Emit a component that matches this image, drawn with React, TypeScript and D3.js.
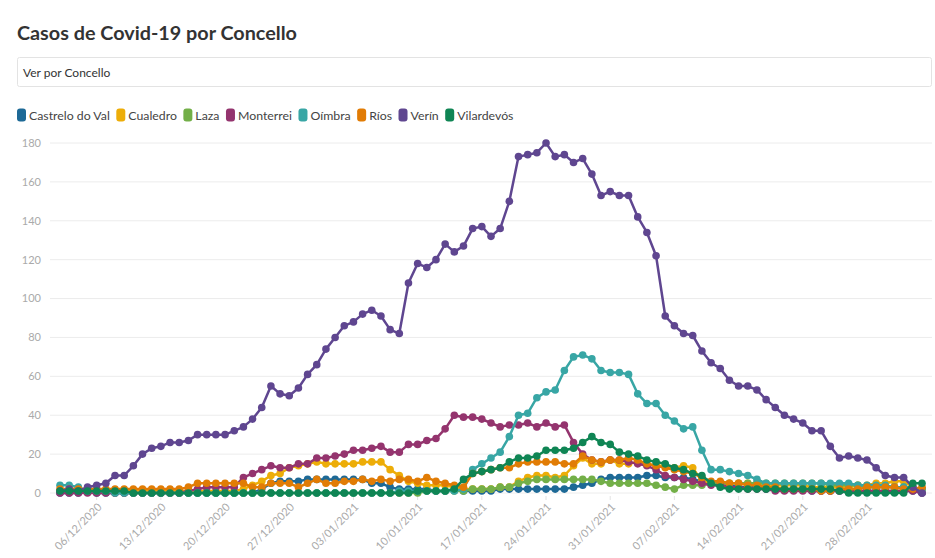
import React, { useRef, useEffect } from 'react';
import * as d3 from 'd3';

// Daily cases per municipality, from 02/12/2020 to 06/03/2021
const startDate = new Date(2020, 11, 2);
const endDate = new Date(2021, 2, 6);

const concellos = ['Castrelo do Val', 'Cualedro', 'Laza', 'Monterrei', 'Oímbra', 'Ríos', 'Verín', 'Vilardevós'];
const colors = ['#1d6996', '#edad08', '#73af48', '#94346e', '#38a6a5', '#e17c05', '#5f4690', '#0f8554'];

const castreloDoVal = [
  0, 0, 0, 1, 0, 0, 0, 0, 0, 0, 0, 0, 0, 0, 0, 0, 0, 0, 0, 0,
  0, 0, 2, 5, 6, 6, 6, 7, 7, 7, 7, 7, 7, 7, 5, 5, 3, 2, 2, 2,
  2, 1, 1, 2, 1, 1, 1, 1, 2, 2, 2, 2, 2, 2, 2, 2, 3, 4, 5, 7,
  8, 8, 8, 8, 9, 9, 8, 8, 8, 7, 6, 5, 4, 4, 3, 3, 3, 2, 2, 2,
  2, 2, 1, 1, 1, 1, 1, 1, 1, 1, 1, 1, 1, 1, 0,
];
const cualedro = [
  1, 1, 1, 1, 1, 1, 1, 1, 1, 1, 1, 1, 1, 1, 1, 1, 1, 1, 1, 1,
  2, 4, 6, 9, 10, 13, 14, 15, 16, 15, 15, 15, 15, 16, 16, 16, 12, 9, 6, 5,
  4, 4, 4, 3, 2, 2, 2, 2, 3, 3, 6, 8, 9, 9, 8, 9, 14, 18, 15, 15,
  17, 15, 15, 16, 15, 14, 14, 13, 14, 13, 6, 5, 5, 5, 5, 5, 5, 4, 4, 4,
  4, 4, 3, 3, 3, 3, 3, 4, 4, 5, 5, 6, 6, 3, 2,
];
const laza = [
  1, 1, 1, 1, 1, 1, 0, 0, 0, 0, 0, 0, 0, 0, 0, 0, 0, 0, 0, 0,
  0, 0, 0, 0, 0, 0, 0, 0, 0, 0, 0, 0, 0, 0, 0, 0, 0, 0, 0, 0,
  1, 1, 1, 1, 1, 2, 2, 2, 3, 3, 5, 6, 7, 7, 7, 7, 7, 7, 7, 6,
  5, 5, 5, 5, 5, 4, 3, 2, 4, 4, 4, 5, 5, 5, 5, 5, 5, 5, 5, 5,
  5, 5, 5, 5, 4, 4, 4, 4, 3, 3, 3, 3, 3, 2, 2,
];
const monterrei = [
  0, 0, 0, 0, 0, 0, 0, 0, 0, 0, 0, 0, 0, 0, 1, 2, 3, 3, 3, 3,
  8, 10, 12, 14, 13, 13, 15, 15, 18, 18, 19, 20, 22, 22, 23, 24, 21, 21, 25, 25,
  27, 28, 33, 40, 39, 39, 38, 36, 34, 35, 35, 36, 34, 36, 34, 35, 26, 20, 17, 16,
  17, 17, 16, 15, 14, 12, 9, 8, 7, 6, 5, 4, 4, 3, 3, 2, 2, 2, 1, 1,
  1, 1, 1, 1, 1, 1, 1, 1, 1, 1, 1, 1, 1, 1, 0,
];
const oimbra = [
  4, 4, 3, 1, 1, 1, 0, 0, 0, 0, 0, 0, 0, 0, 0, 0, 0, 0, 0, 0,
  0, 0, 0, 0, 0, 0, 0, 0, 0, 0, 0, 0, 0, 0, 0, 0, 0, 1, 1, 1,
  1, 1, 1, 1, 2, 12, 15, 18, 21, 29, 40, 41, 49, 52, 53, 63, 70, 71, 69, 63,
  62, 62, 61, 51, 46, 46, 40, 37, 33, 34, 22, 12, 12, 11, 10, 9, 7, 5, 5, 5,
  5, 5, 5, 5, 5, 5, 5, 4, 4, 4, 4, 3, 3, 3, 2,
];
const rios = [
  2, 2, 2, 2, 2, 2, 2, 2, 2, 2, 2, 2, 2, 2, 3, 5, 5, 5, 5, 5,
  5, 3, 3, 5, 5, 5, 3, 5, 7, 5, 5, 6, 6, 7, 6, 7, 6, 7, 7, 6,
  8, 6, 5, 4, 3, 10, 11, 12, 13, 13, 15, 16, 16, 16, 16, 15, 15, 19, 17, 16,
  17, 17, 18, 17, 15, 14, 13, 12, 11, 10, 8, 6, 6, 5, 5, 4, 4, 3, 3, 2,
  2, 2, 2, 1, 1, 2, 2, 2, 3, 3, 3, 3, 2, 2, 3,
];
const verin = [
  1, 2, 1, 3, 4, 5, 9, 9, 14, 20, 23, 24, 26, 26, 27, 30, 30, 30, 30, 32,
  34, 38, 44, 55, 51, 50, 54, 61, 66, 74, 80, 86, 88, 92, 94, 91, 84, 82, 108, 118,
  116, 120, 128, 124, 127, 136, 137, 132, 136, 150, 173, 174, 175, 180, 173, 174, 170, 172, 164, 153,
  155, 153, 153, 142, 134, 122, 91, 86, 82, 81, 73, 67, 64, 58, 55, 55, 53, 48, 44, 40,
  38, 36, 32, 32, 24, 18, 19, 18, 17, 13, 9, 8, 8, 3, 0,
];
const vilardevos = [
  1, 1, 1, 1, 1, 1, 1, 1, 0, 0, 0, 0, 0, 0, 0, 0, 0, 0, 0, 0,
  0, 0, 0, 0, 0, 0, 0, 0, 0, 0, 0, 0, 0, 0, 0, 0, 0, 0, 0, 1,
  1, 1, 1, 2, 7, 10, 11, 12, 13, 16, 18, 18, 19, 22, 22, 22, 23, 26, 29, 26,
  25, 21, 20, 19, 17, 16, 15, 13, 12, 10, 9, 5, 3, 2, 2, 2, 2, 2, 2, 2,
  2, 2, 2, 2, 2, 1, 0, 0, 0, 0, 0, 0, 0, 5, 5,
];

const seriesValues = [castreloDoVal, cualedro, laza, monterrei, oimbra, rios, verin, vilardevos];
const yTicks = [0, 20, 40, 60, 80, 100, 120, 140, 160, 180];

const FONT = "'Source Sans Pro', Lato, 'Open Sans', sans-serif";

const App = () => {
  const svgRef = useRef(null);

  useEffect(() => {
    document.body.style.margin = '0';
    const svg = d3.select(svgRef.current);
    svg.selectAll('*').remove();

    const dates = d3.timeDay.range(startDate, d3.timeDay.offset(endDate, 1));
    const series = concellos.map((name, k) => ({
      name,
      color: colors[k],
      values: dates.map((date, i) => ({ date, value: seriesValues[k][i] })),
    }));

    const x = d3.scaleTime().domain([startDate, endDate]).range([60, 922]);
    const y = d3.scaleLinear().domain([0, 180]).range([493, 143]);

    // Header
    svg.append('text')
      .attr('x', 17).attr('y', 40)
      .attr('font-family', FONT).attr('font-weight', 700).attr('font-size', 19.8)
      .attr('fill', '#333')
      .text('Casos de Covid-19 por Concello');

    svg.append('rect')
      .attr('x', 17.5).attr('y', 57.5).attr('width', 914).attr('height', 29)
      .attr('fill', '#fff').attr('stroke', '#e3e3e3').attr('rx', 2);
    svg.append('text')
      .attr('x', 23).attr('y', 77)
      .attr('font-family', FONT).attr('font-size', 12)
      .attr('fill', '#333')
      .text('Ver por Concello');

    // Legend
    const legend = svg.append('g').attr('transform', 'translate(17,115)');
    let lx = 0;
    series.forEach(s => {
      const g = legend.append('g').attr('transform', `translate(${lx},0)`);
      g.append('rect')
        .attr('x', 0).attr('y', -6.5).attr('width', 9).attr('height', 13).attr('rx', 3)
        .attr('fill', s.color);
      const t = g.append('text')
        .attr('x', 12).attr('y', 4.5)
        .attr('font-family', FONT).attr('font-size', 12.3)
        .attr('fill', '#444')
        .text(s.name);
      lx += 12 + t.node().getComputedTextLength() + 6.5;
    });

    // Grid and y axis
    const grid = svg.append('g');
    yTicks.forEach(v => {
      grid.append('line')
        .attr('x1', 50).attr('x2', 932)
        .attr('y1', y(v)).attr('y2', y(v))
        .attr('stroke', '#ececec').attr('stroke-width', 1);
      grid.append('text')
        .attr('x', 41).attr('y', y(v)).attr('dy', '0.35em')
        .attr('text-anchor', 'end')
        .attr('font-family', FONT).attr('font-size', 11)
        .attr('fill', '#aaa')
        .text(v);
    });

    // X axis
    const xTicks = d3.timeDay.range(new Date(2020, 11, 6), d3.timeDay.offset(endDate, 1), 7);
    const fmt = d3.timeFormat('%d/%m/%Y');
    const xAxis = svg.append('g');
    xTicks.forEach(d => {
      xAxis.append('line')
        .attr('x1', x(d)).attr('x2', x(d)).attr('y1', 496).attr('y2', 500)
        .attr('stroke', '#e3e3e3');
      xAxis.append('text')
        .attr('transform', `translate(${x(d) + 3},505) rotate(-45)`)
        .attr('text-anchor', 'end')
        .attr('dy', '0.35em')
        .attr('font-family', FONT).attr('font-size', 11)
        .attr('fill', '#aaa')
        .text(fmt(d));
    });

    // Lines and dots
    const line = d3.line()
      .x(d => x(d.date))
      .y(d => y(d.value));

    const lines = svg.append('g');
    series.forEach(s => {
      const g = lines.append('g');
      g.append('path')
        .datum(s.values)
        .attr('fill', 'none')
        .attr('stroke', s.color)
        .attr('stroke-width', 2.5)
        .attr('stroke-linejoin', 'round')
        .attr('d', line);
      g.selectAll('circle')
        .data(s.values)
        .enter().append('circle')
        .attr('cx', d => x(d.date))
        .attr('cy', d => y(d.value))
        .attr('r', 3.8)
        .attr('fill', s.color);
    });
  }, []);

  return (
    <div>
      <svg ref={svgRef} width={935} height={558} style={{ display: 'block' }}></svg>
    </div>
  );
};

export default App;
